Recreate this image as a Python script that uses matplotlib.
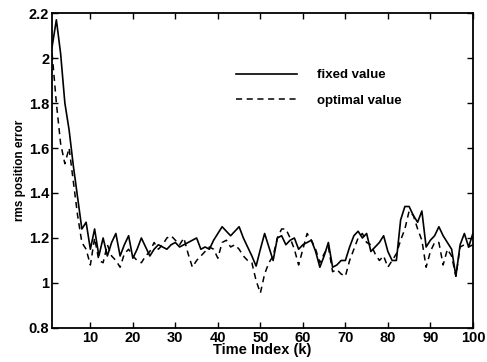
import numpy as np
import matplotlib.pyplot as plt

k = np.arange(1, 101)

fixed_value = [
    2.05, 2.17, 2.02, 1.80, 1.68, 1.52, 1.38, 1.24, 1.27, 1.15,
    1.24, 1.12, 1.20, 1.12, 1.18, 1.22, 1.12, 1.17, 1.21, 1.11,
    1.15, 1.20, 1.16, 1.12, 1.15, 1.17, 1.16, 1.15, 1.17, 1.18,
    1.16, 1.17, 1.18, 1.19, 1.20, 1.15, 1.16, 1.15, 1.19, 1.22,
    1.25, 1.23, 1.21, 1.23, 1.25, 1.20, 1.16, 1.12, 1.075, 1.15,
    1.22, 1.16, 1.10, 1.20, 1.21, 1.17, 1.19, 1.20, 1.15, 1.17,
    1.18, 1.19, 1.14, 1.07, 1.12, 1.18, 1.07, 1.08, 1.10, 1.10,
    1.16, 1.21, 1.23, 1.20, 1.22, 1.14, 1.16, 1.18, 1.21, 1.14,
    1.10, 1.10, 1.28, 1.34, 1.34, 1.30, 1.27, 1.32, 1.16, 1.19,
    1.21, 1.25, 1.21, 1.18, 1.15, 1.03, 1.17, 1.22, 1.16, 1.22,
]

optimal_value = [
    2.02, 1.80, 1.62, 1.53, 1.60, 1.45, 1.30, 1.18, 1.15, 1.08,
    1.20, 1.10, 1.09, 1.17, 1.12, 1.10, 1.07, 1.13, 1.15, 1.12,
    1.10, 1.09, 1.12, 1.14, 1.18, 1.15, 1.17, 1.20, 1.21, 1.19,
    1.17, 1.20, 1.13, 1.07, 1.10, 1.12, 1.14, 1.16, 1.15, 1.11,
    1.18, 1.19, 1.16, 1.17, 1.15, 1.12, 1.10, 1.09, 1.01, 0.955,
    1.04, 1.09, 1.12, 1.20, 1.24, 1.24, 1.20, 1.15, 1.08, 1.15,
    1.22, 1.19, 1.15, 1.09, 1.13, 1.16, 1.05, 1.06, 1.04, 1.03,
    1.10, 1.15, 1.20, 1.22, 1.18, 1.17, 1.13, 1.10, 1.12, 1.07,
    1.10, 1.13, 1.19, 1.24, 1.32, 1.30, 1.24, 1.19, 1.07, 1.14,
    1.18, 1.18, 1.08, 1.15, 1.12, 1.03, 1.16, 1.17, 1.16, 1.17,
]

xticks = [10, 20, 30, 40, 50, 60, 70, 80, 90, 100]
yticks = [0.8, 1.0, 1.2, 1.4, 1.6, 1.8, 2.0, 2.2]
ytick_labels = ['0.8', '1', '1.2', '1.4', '1.6', '1.8', '2', '2.2']

plt.rcParams['font.family'] = ['Liberation Sans', 'DejaVu Sans']
plt.rcParams['font.weight'] = 'bold'

fig = plt.figure(figsize=(4.87, 3.62), dpi=100)
ax = fig.add_axes([0.107, 0.094, 0.864, 0.870])

ax.plot(k, fixed_value, color='black', linewidth=1.2, label='fixed value')
ax.plot(k, optimal_value, color='black', linewidth=1.1, linestyle=(0, (4, 3)),
        label='optimal value')

ax.set_xlim(1, 100)
ax.set_ylim(0.8, 2.2)
ax.set_xticks(xticks)
ax.set_yticks(yticks)
ax.set_yticklabels(ytick_labels)
ax.tick_params(direction='in', top=True, right=True, length=4, width=1,
               labelsize=10.5, pad=2)
for s in ax.spines.values():
    s.set_linewidth(1.3)

ax.set_xlabel('Time Index (k)', fontsize=10.5, fontweight='bold', labelpad=-1)
ax.set_ylabel('rms position error', fontsize=8.5, fontweight='bold', labelpad=2)

# legend without frame, placed in the upper middle
leg = ax.legend(loc='upper left', bbox_to_anchor=(0.41, 0.86), frameon=False,
                prop={'size': 9.5, 'weight': 'bold'}, handlelength=4.6,
                handletextpad=1.5, labelspacing=1.0)

fig.savefig('out.png', dpi=100)
